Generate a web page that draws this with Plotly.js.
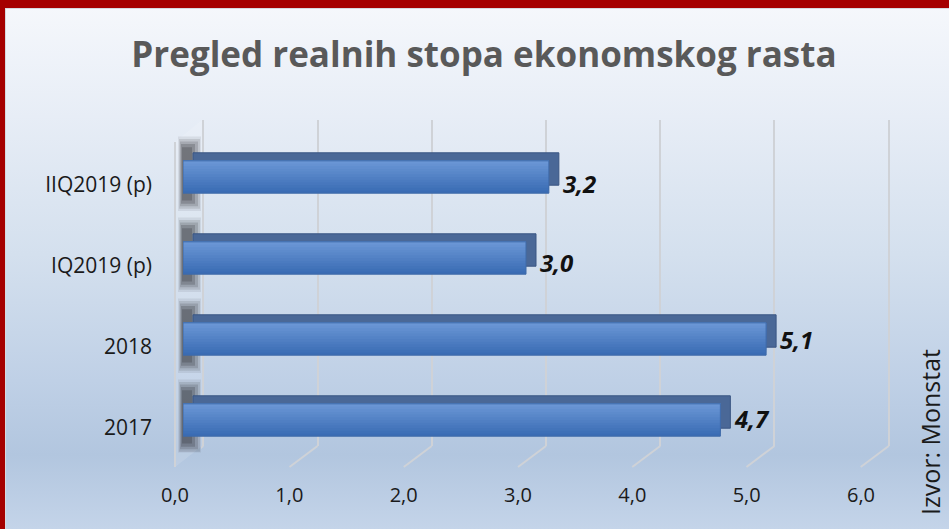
<!DOCTYPE html>
<html>
<head>
<meta charset="utf-8">
<script src="https://cdn.plot.ly/plotly-3.0.1.min.js"></script>
<style>
  html, body { margin: 0; padding: 0; background: #ffffff; }
  #wrap { position: relative; width: 949px; height: 529px; overflow: hidden;
    background: linear-gradient(to bottom, #f6f8fc 0%, #e7edf6 22%, #d4e0ee 48%, #bfd0e6 72%, #b2c6df 86%, #c4d4e9 100%); }
  #chart { position: absolute; left: 0; top: 0; width: 949px; height: 529px; }
  .bt { position: absolute; left: 0; top: 0; width: 949px; height: 8px; background: #a50000; }
  .bl { position: absolute; left: 0; top: 0; width: 5px; height: 529px; background: #a50000; }
  .it { position: absolute; left: 5px; top: 8px; width: 944px; height: 1px; background: #d6d9de; }
  .il { position: absolute; left: 5px; top: 8px; width: 1px; height: 521px; background: #d6d9de; }
</style>
</head>
<body>
<div id="wrap">
  <div id="chart"></div>
  <div class="it"></div><div class="il"></div>
  <div class="bt"></div><div class="bl"></div>
</div>
<script>
// ---- data ----
const categories = ['2017', '2018', 'IQ2019 (p)', 'IIQ2019 (p)'];
const values = [4.7, 5.1, 3.0, 3.2];
const tickValues = [0, 1, 2, 3, 4, 5, 6];
const tickLabels = ['0,0', '1,0', '2,0', '3,0', '4,0', '5,0', '6,0'];
const titleText = 'Pregled realnih stopa ekonomskog rasta';
const sourceText = 'Izvor: Monstat';

// ---- geometry helpers (pixel -> paper fraction) ----
const W = 949, H = 529;
const px = v => v / W;
const py = v => 1 - v / H;
const UNIT = 114.3; // pixels per 1.0 on the value axis
const BACK0 = 193;  // pixel of value 0 on the back-face axis

const fmt = v => v.toFixed(1).replace('.', ',');

const hexToRgb = h => [1, 3, 5].map(i => parseInt(h.substr(i, 2), 16));
const mix = (a, b, t) => {
  const A = hexToRgb(a), B = hexToRgb(b);
  return 'rgb(' + A.map((v, i) => Math.round(v + (B[i] - v) * t)).join(',') + ')';
};

const traces = [];
// grid subplot placeholder
traces.push({ type: 'scatter', x: [], y: [], xaxis: 'x', yaxis: 'y', hoverinfo: 'skip', showlegend: false });

// soft shadow on the side wall (decoration)
[[0.92, 178, 201, 0.08], [0.86, 179, 200, 0.12], [0.8, 180, 198, 0.16], [0.74, 181, 195, 0.2], [0.66, 182, 192, 0.22]]
  .forEach(([w, xl, xr, a]) => {
    traces.push({
      type: 'bar', orientation: 'h', y: categories, x: categories.map(() => (xr - xl) / UNIT),
      base: categories.map(() => (xl - BACK0) / UNIT), width: w, offset: -w / 2 - 0.06,
      xaxis: 'x2', yaxis: 'y2', marker: { color: 'rgba(30,30,35,' + a + ')', line: { width: 0 } },
      hoverinfo: 'skip', showlegend: false
    });
  });
// back (top / side faces)
traces.push({
  type: 'bar', orientation: 'h', y: categories, x: values, width: 0.4,
  xaxis: 'x2', yaxis: 'y2', marker: { color: '#4a6897', line: { color: '#3a5683', width: 1 } },
  hoverinfo: 'skip', showlegend: false
});
// front face with smooth banded gradient
const N = 12;
for (let k = 0; k < N; k++) {
  const t = k / (N - 1);
  traces.push({
    type: 'bar', orientation: 'h', y: categories, x: values,
    width: 0.4 - k * 0.4 / N, offset: -0.2 + k * 0.4 / N, xaxis: 'x3', yaxis: 'y3',
    marker: { color: mix('#3a6cb4', '#6a96d5', t), line: { width: 0 } }, hoverinfo: 'skip', showlegend: false
  });
}
// thin outline of front face
traces.push({
  type: 'bar', orientation: 'h', y: categories, x: values, width: 0.4,
  xaxis: 'x3', yaxis: 'y3',
  marker: { color: 'rgba(0,0,0,0)', line: { color: '#3f6aa8', width: 1 } }, hoverinfo: 'skip', showlegend: false
});

// domains
const yFront = [py(460.5), py(136.5)];
const yBack = [py(452.5), py(128.5)];
const yGrid = [py(446), py(120)];
const xFront = [px(183), px(869)];
const xBack = [px(176), px(879)];
const xGrid = [px(201), px(891)];

const shapes = [];
// left wall
shapes.push({ type: 'path', xref: 'paper', yref: 'paper',
  path: `M ${px(175)},${py(142)} L ${px(202)},${py(120)} L ${px(202)},${py(446)} L ${px(175)},${py(467)} Z`,
  fillcolor: 'rgba(255,255,255,0.12)', line: { width: 0 }, layer: 'below' });
shapes.push({ type: 'line', xref: 'paper', yref: 'paper', x0: px(175), x1: px(175), y0: py(142), y1: py(467),
  line: { color: '#cfd2d7', width: 2 }, layer: 'below' });
// floor lines from grid to front
tickValues.forEach(v => {
  shapes.push({ type: 'line', xref: 'x', yref: 'paper', x0: v, x1: v - 28 / UNIT,
    y0: py(446), y1: py(467), line: { color: '#cfd2d7', width: 2 }, layer: 'below' });
});

const labelShift = [2, 0, -4, -6];
const annotations = values.map((v, i) => ({
  x: v, y: i, xref: 'x3', yref: 'y3', xanchor: 'left', yanchor: 'middle',
  text: '<b><i>' + fmt(v) + '</i></b>', showarrow: false, xshift: 12, yshift: labelShift[i],
  font: { family: 'Open Sans', size: 24, color: '#111111' }
}));
annotations.push({
  x: 1, y: py(432), xref: 'paper', yref: 'paper', text: sourceText, textangle: -90,
  showarrow: false, xanchor: 'right', yanchor: 'middle',
  font: { family: 'Open Sans', size: 25, color: '#1a1a1a' }
});

const layout = {
  width: W, height: H,
  margin: { l: 0, r: 0, t: 0, b: 0, pad: 0 },
  paper_bgcolor: 'rgba(0,0,0,0)', plot_bgcolor: 'rgba(0,0,0,0)',
  separators: ',.',
  barmode: 'overlay',
  showlegend: false,
  title: { text: titleText, x: 0.51, xanchor: 'center', y: py(55), yanchor: 'middle', yref: 'container',
    font: { family: 'Open Sans', size: 35, weight: 700, color: '#595959' } },
  xaxis: { domain: xGrid, range: [-0.02, 6.02], anchor: 'y', tickvals: tickValues, showticklabels: false,
    showgrid: true, gridcolor: '#cfd2d7', gridwidth: 2, zeroline: false, showline: false, ticks: '', fixedrange: true },
  yaxis: { domain: yGrid, range: [0, 1], anchor: 'x', visible: false, showgrid: false, fixedrange: true },
  xaxis2: { domain: xBack, range: [(176 - BACK0) / UNIT, 6], anchor: 'y2', visible: false, showgrid: false, zeroline: false, fixedrange: true },
  yaxis2: { domain: yBack, anchor: 'x2', type: 'category', categoryarray: categories, categoryorder: 'array',
    range: [-0.5, 3.5], visible: false, showgrid: false, fixedrange: true },
  xaxis3: { domain: xFront, range: [0, 6], anchor: 'y3', tickvals: tickValues, ticktext: tickLabels,
    showgrid: false, zeroline: false, showline: false, ticks: '', ticklabelshift: -8, ticklabelstandoff: 20,
    tickfont: { family: 'Open Sans', size: 20, color: '#1a1a1a' }, fixedrange: true },
  yaxis3: { domain: yFront, anchor: 'x3', type: 'category', categoryarray: categories, categoryorder: 'array',
    range: [-0.5, 3.5], showgrid: false, zeroline: false, showline: false, ticks: '',
    ticklabelstandoff: 30, ticklabelshift: 8,
    tickfont: { family: 'Open Sans', size: 21, color: '#1a1a1a' }, fixedrange: true },
  shapes: shapes,
  annotations: annotations
};

Plotly.newPlot('chart', traces, layout, { displayModeBar: false, staticPlot: true });
</script>
</body>
</html>
